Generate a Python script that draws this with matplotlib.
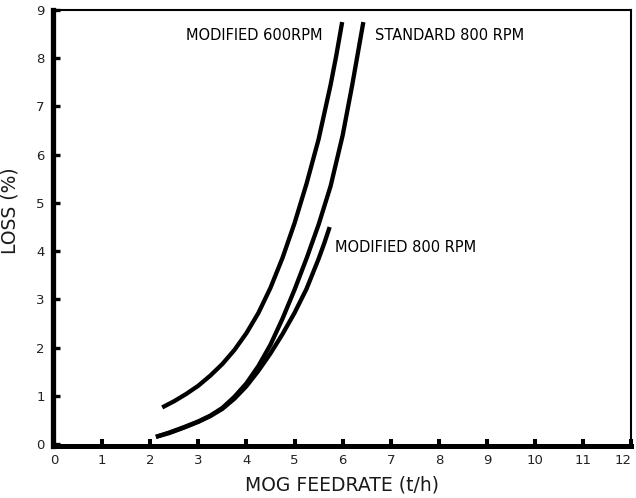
import matplotlib.pyplot as plt

# loss curves (t/h, %)
mod600_x = [2.25, 2.5, 2.75, 3.0, 3.25, 3.5, 3.75, 4.0, 4.25, 4.5, 4.75,
            5.0, 5.25, 5.5, 5.75, 5.87, 5.99]
mod600_y = [0.76, 0.89, 1.04, 1.21, 1.42, 1.66, 1.95, 2.3, 2.72, 3.24, 3.86,
            4.58, 5.4, 6.32, 7.45, 8.07, 8.75]

std800_x = [2.12, 2.4, 2.7, 3.0, 3.25, 3.5, 3.75, 4.0, 4.25, 4.5, 4.75,
            5.0, 5.25, 5.5, 5.75, 6.0, 6.2, 6.43]
std800_y = [0.15, 0.24, 0.35, 0.47, 0.59, 0.75, 0.98, 1.26, 1.62, 2.06, 2.6,
            3.2, 3.85, 4.55, 5.35, 6.4, 7.45, 8.75]

mod800_x = [2.12, 2.4, 2.7, 3.0, 3.25, 3.5, 3.75, 4.0, 4.25, 4.5, 4.75,
            5.0, 5.25, 5.5, 5.62, 5.73]
mod800_y = [0.15, 0.23, 0.34, 0.46, 0.58, 0.73, 0.94, 1.2, 1.52, 1.88, 2.28,
            2.72, 3.22, 3.84, 4.17, 4.5]

xticks = list(range(0, 13))
yticks = list(range(0, 10))


def main():
    plt.rcParams['font.family'] = ['DejaVu Sans']
    fig = plt.figure(figsize=(6.36, 4.98), dpi=100)
    ax = fig.add_axes([0.0833, 0.1044, 0.9094, 0.8755])

    for xs, ys in [(mod600_x, mod600_y), (std800_x, std800_y), (mod800_x, mod800_y)]:
        ax.plot(xs, ys, color='black', lw=3.1, solid_capstyle='butt',
                solid_joinstyle='round')

    ax.text(5.58, 8.47, 'MODIFIED 600RPM', ha='right', va='center', fontsize=10.5)
    ax.text(6.68, 8.47, 'STANDARD 800 RPM', ha='left', va='center', fontsize=10.5)
    ax.text(5.85, 4.08, 'MODIFIED 800 RPM', ha='left', va='center', fontsize=10.5)

    ax.set_xlim(-0.02, 12)
    ax.set_ylim(-0.04, 9)
    ax.set_xticks(xticks)
    ax.set_yticks(yticks)
    ax.get_xticklabels()[-1].set_ha('right')

    ax.spines['left'].set_linewidth(3.8)
    ax.spines['bottom'].set_linewidth(3.6)
    ax.spines['top'].set_linewidth(1.5)
    ax.spines['right'].set_linewidth(1.5)

    ax.tick_params(axis='x', direction='in', length=4.8, width=2.9, pad=6,
                   labelsize=9.5, labelcolor='#222222')
    ax.tick_params(axis='y', direction='in', length=4.8, width=2.4, pad=6,
                   labelsize=9.5, labelcolor='#222222')

    ax.set_xlabel('MOG FEEDRATE (t/h)', fontsize=13.5, color='#1a1a1a', labelpad=6)
    ax.set_ylabel('LOSS (%)', fontsize=13.5, color='#1a1a1a', labelpad=8)
    ax.yaxis.set_label_coords(-0.058, 0.54)

    fig.savefig('out.png', dpi=100)


if __name__ == '__main__':
    main()
